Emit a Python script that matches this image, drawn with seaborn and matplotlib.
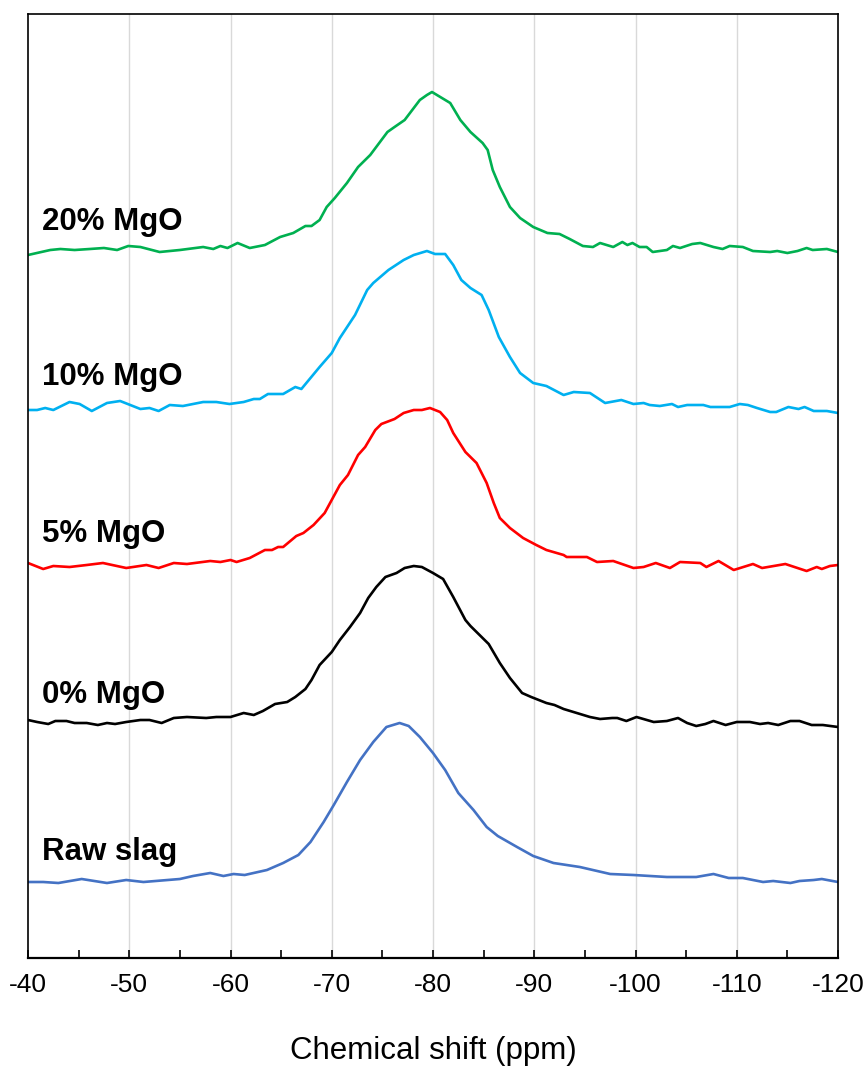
import matplotlib
matplotlib.use("Agg")
import matplotlib.pyplot as plt
from matplotlib.ticker import MultipleLocator
import numpy as np
import pandas as pd
import seaborn as sns

# 29Si NMR spectra (intensity in arbitrary units)
samples = ["20% MgO", "10% MgO", "5% MgO", "0% MgO", "Raw slag"]
colors = ["#00B050", "#00B0F0", "#FF0000", "#000000", "#4472C4"]
offsets = [700, 545, 390, 235, 75]
label_y = [728, 573, 416, 255, 98]

shift_20 = [-40.0, -42.2, -43.2, -44.6, -46.1, -47.5, -48.8, -49.9, -51.1, -53.0,
            -55.0, -57.3, -58.3, -59.0, -59.7, -60.7, -61.9, -63.4, -64.9, -66.2,
            -67.4, -68.0, -68.8, -69.5, -70.3, -71.5, -72.6, -73.8, -75.5, -76.2,
            -77.2, -78.7, -79.4, -79.9, -81.7, -82.7, -83.7, -84.9, -85.4, -85.9,
            -86.6, -87.6, -88.6, -89.9, -91.3, -92.5, -93.5, -94.8, -95.8, -96.5,
            -97.8, -98.7, -99.2, -99.7, -100.4, -101.1, -101.7, -103.1, -103.7, -104.4,
            -105.6, -106.4, -107.7, -108.6, -109.3, -110.6, -111.6, -113.3, -114.0, -115.0,
            -116.0, -116.9, -117.5, -118.9, -120.0]
int_20 = [3, 8, 9, 8, 9, 10, 8, 12, 11, 6,
          8, 11, 9, 12, 10, 15, 10, 13, 21, 25,
          32, 32, 38, 51, 60, 75, 91, 103, 126, 131,
          138, 158, 163, 166, 155, 138, 126, 115, 108, 88,
          71, 51, 40, 31, 25, 24, 19, 12, 11, 15,
          11, 16, 13, 15, 11, 11, 6, 8, 12, 10,
          14, 15, 11, 9, 12, 11, 7, 6, 7, 5,
          7, 10, 8, 9, 6]

shift_10 = [-40.0, -40.9, -41.7, -42.5, -44.1, -45.1, -46.3, -47.8, -49.1, -51.1,
            -52.0, -52.9, -54.0, -55.3, -57.3, -58.6, -59.9, -61.3, -62.3, -62.9,
            -63.7, -65.2, -66.4, -67.0, -67.9, -68.8, -70.0, -70.8, -72.3, -73.5,
            -74.1, -75.6, -77.1, -78.1, -79.4, -80.2, -81.2, -82.0, -82.8, -83.7,
            -84.8, -85.5, -86.5, -87.6, -88.6, -89.9, -91.2, -92.9, -93.9, -95.5,
            -97.0, -98.6, -99.8, -100.8, -101.4, -102.4, -103.6, -104.2, -105.1, -106.7,
            -107.4, -109.3, -110.3, -111.1, -112.0, -113.3, -113.9, -115.1, -116.1, -116.7,
            -117.6, -118.9, -120.0]
int_10 = [3, 3, 5, 3, 11, 9, 2, 10, 12, 4,
          5, 2, 8, 7, 11, 11, 9, 11, 14, 14,
          19, 19, 26, 24, 35, 46, 60, 75, 98, 123,
          130, 143, 153, 158, 162, 159, 159, 148, 133, 125,
          118, 103, 76, 56, 40, 30, 27, 18, 21, 20,
          10, 13, 9, 10, 8, 7, 9, 6, 8, 8,
          6, 6, 9, 8, 5, 1, 1, 6, 4, 6,
          2, 2, 0]

shift_5 = [-40.0, -41.5, -42.5, -44.1, -45.8, -47.4, -49.7, -51.7, -52.9, -54.4,
           -55.7, -58.0, -59.0, -60.0, -60.6, -61.9, -63.4, -64.1, -64.7, -65.2,
           -66.5, -67.2, -68.2, -69.3, -70.8, -71.6, -72.6, -73.3, -74.3, -74.9,
           -76.2, -77.1, -78.1, -78.9, -79.7, -80.7, -81.4, -82.0, -83.2, -84.3,
           -85.3, -86.0, -86.6, -87.6, -88.9, -90.2, -91.2, -92.9, -93.2, -95.2,
           -96.2, -97.8, -99.8, -100.8, -102.0, -103.4, -104.4, -106.4, -107.0, -108.2,
           -109.7, -111.6, -112.5, -114.8, -116.9, -117.9, -118.4, -119.2, -120.0]
int_5 = [5, -1, 2, 1, 3, 5, 0, 3, 0, 5,
         4, 7, 6, 8, 6, 10, 18, 18, 21, 21,
         32, 35, 43, 55, 83, 93, 113, 121, 138, 144,
         149, 155, 158, 158, 160, 156, 148, 135, 116, 105,
         85, 65, 50, 40, 30, 23, 18, 13, 11, 11,
         6, 7, 0, 1, 5, 0, 6, 5, 1, 7,
         -2, 4, 0, 4, -3, 1, -1, 2, 3]

shift_0 = [-40.0, -40.9, -42.0, -42.7, -43.8, -44.6, -45.8, -46.9, -47.8, -48.6,
           -49.7, -51.1, -52.0, -53.2, -54.4, -55.7, -57.6, -58.6, -60.0, -61.3,
           -62.3, -63.2, -64.4, -65.6, -66.4, -67.4, -68.0, -68.8, -70.0, -70.8,
           -71.8, -72.8, -73.6, -74.4, -75.3, -76.4, -77.2, -78.1, -78.9, -80.0,
           -81.0, -82.0, -83.2, -83.7, -84.6, -85.5, -86.6, -87.6, -88.8, -89.7,
           -91.2, -92.0, -92.9, -94.2, -95.5, -96.5, -97.7, -98.2, -99.1, -100.1,
           -101.8, -103.1, -104.2, -105.1, -106.0, -106.9, -107.7, -108.9, -110.0, -111.3,
           -112.3, -113.1, -114.1, -115.3, -116.2, -117.4, -118.5, -120.0]
int_0 = [3, 1, -1, 2, 2, 0, 0, -2, 0, -1,
         1, 3, 3, 0, 5, 6, 5, 6, 6, 10,
         8, 12, 19, 21, 26, 34, 43, 58, 71, 83,
         96, 110, 125, 136, 146, 150, 155, 157, 156, 150,
         144, 126, 103, 97, 88, 79, 60, 45, 30, 26,
         20, 18, 14, 10, 6, 4, 5, 5, 2, 6,
         1, 2, 5, 0, -3, -1, 2, -2, 1, 1,
         -1, 0, -2, 2, 2, -2, -2, -4]

shift_raw = [-40.0, -41.5, -43.0, -45.3, -47.8, -49.7, -51.4, -55.0, -56.3, -58.0,
             -59.3, -60.3, -61.4, -63.6, -65.2, -66.7, -67.9, -69.2, -70.2, -71.5,
             -72.8, -74.1, -75.4, -76.7, -77.6, -78.7, -80.0, -81.2, -82.5, -84.0,
             -85.3, -86.4, -88.3, -89.9, -91.9, -94.5, -97.5, -99.8, -103.1, -106.0,
             -107.7, -109.2, -110.6, -112.6, -113.6, -115.3, -116.2, -117.6, -118.4, -120.0]
int_raw = [1, 1, 0, 4, 0, 3, 1, 4, 7, 10,
           7, 9, 8, 13, 20, 28, 41, 61, 78, 101,
           123, 141, 156, 160, 157, 146, 130, 113, 90, 73,
           56, 47, 36, 27, 20, 16, 9, 8, 6, 6,
           9, 5, 5, 1, 2, 0, 2, 3, 4, 1]

shifts = [shift_20, shift_10, shift_5, shift_0, shift_raw]
intensities = [int_20, int_10, int_5, int_0, int_raw]

frames = []
for name, x, y, off in zip(samples, shifts, intensities, offsets):
    frames.append(pd.DataFrame({
        "shift": x,
        "signal": np.asarray(y, dtype=float) + off,
        "sample": name,
    }))
df = pd.concat(frames, ignore_index=True)

sns.set_style("white")
plt.rcParams["font.family"] = ["Liberation Sans", "DejaVu Sans"]
plt.rcParams["text.color"] = "black"
plt.rcParams["xtick.color"] = "black"
plt.rcParams["axes.labelcolor"] = "black"

fig = plt.figure(figsize=(8.67, 10.68), dpi=100)
ax = fig.add_axes([28 / 867, 110 / 1068, 810 / 867, 944 / 1068])

ax.grid(False)
for g in range(-50, -120, -10):
    ax.axvline(g, color="#d9d9d9", lw=1.0, zorder=0)

sns.lineplot(data=df, x="shift", y="signal", hue="sample", hue_order=samples,
             palette=colors, estimator=None, sort=False, linewidth=1.9,
             legend=False, ax=ax)
for line in ax.get_lines():
    line.set_solid_joinstyle("round")
    line.set_solid_capstyle("round")

for name, ly in zip(samples, label_y):
    ax.text(-41.4, ly, name, fontsize=22.5, fontweight="bold",
            ha="left", va="baseline", color="black")

ax.set_xlim(-40, -120)
ax.set_ylim(0, 944)
ax.xaxis.set_minor_locator(MultipleLocator(5))
ax.set_xticks(np.arange(-40, -121, -10))
ax.set_xticklabels([str(v) for v in range(-40, -121, -10)])
ax.tick_params(axis="x", which="both", direction="in", length=6, width=1.2,
               color="black", labelcolor="black", bottom=True, top=False,
               labelsize=19, pad=11)
ax.tick_params(axis="y", left=False, labelleft=False)
ax.set_yticks([])
ax.set_ylabel("")
ax.set_xlabel("Chemical shift (ppm)", fontsize=22.5, labelpad=28, color="black")

for side in ["left", "right", "top", "bottom"]:
    ax.spines[side].set_visible(True)
    ax.spines[side].set_color("black")
    ax.spines[side].set_linewidth(1.2)
ax.spines["bottom"].set_linewidth(1.6)

fig.savefig("out.png", dpi=100)
